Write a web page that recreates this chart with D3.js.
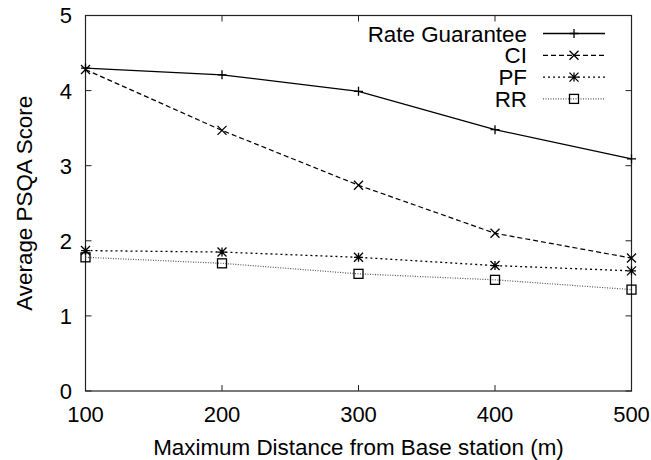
<!DOCTYPE html>
<html>
<head>
<meta charset="utf-8">
<script src="https://cdn.jsdelivr.net/npm/d3@7"></script>
<style>
  html, body { margin: 0; padding: 0; background: white; }
  svg { display: block; font-family: "Liberation Sans", Arial, Helvetica, sans-serif; }
</style>
</head>
<body>
<svg id="main-svg" width="651" height="460"></svg>
<script>
// data
const distances = [100, 200, 300, 400, 500];
const rateGuarantee = [4.30, 4.21, 3.99, 3.48, 3.09];
const ci = [4.28, 3.47, 2.74, 2.10, 1.77];
const pf = [1.87, 1.85, 1.78, 1.67, 1.60];
const rr = [1.78, 1.70, 1.56, 1.48, 1.35];
const seriesNames = ["Rate Guarantee", "CI", "PF", "RR"];
const xTicks = [100, 200, 300, 400, 500];
const yTicks = [0, 1, 2, 3, 4, 5];

const svg = d3.select("#main-svg");

// plot area
const plotLeft = 85.5, plotRight = 631.5, plotTop = 15.5, plotBottom = 391;

const x = d3.scaleLinear().domain([100, 500]).range([plotLeft, plotRight]);
const y = d3.scaleLinear().domain([0, 5]).range([plotBottom, plotTop]);

// series styles (gnuplot-ish)
const styles = [
    { dash: null, color: "#000", width: 1.3, marker: "plus" },
    { dash: "5,3", color: "#000", width: 1.2, marker: "cross" },
    { dash: "2,3", color: "#000", width: 1.3, marker: "star" },
    { dash: "1,1.5", color: "#555", width: 1.2, marker: "box" }
];
const allSeries = [rateGuarantee, ci, pf, rr];

// border
svg.append("rect")
    .attr("x", plotLeft).attr("y", plotTop)
    .attr("width", plotRight - plotLeft).attr("height", plotBottom - plotTop)
    .attr("fill", "none")
    .attr("stroke", "#222")
    .attr("stroke-width", 1.2);

// ticks, mirrored on all sides, pointing inward
const tickLen = 6;
xTicks.forEach(t => {
    svg.append("line")
        .attr("x1", x(t)).attr("x2", x(t))
        .attr("y1", plotBottom).attr("y2", plotBottom - tickLen)
        .attr("stroke", "#222");
    svg.append("line")
        .attr("x1", x(t)).attr("x2", x(t))
        .attr("y1", plotTop).attr("y2", plotTop + tickLen)
        .attr("stroke", "#222");
    svg.append("text")
        .attr("x", x(t)).attr("y", 422)
        .attr("text-anchor", "middle")
        .style("font-size", "22px")
        .text(t);
});
yTicks.forEach(t => {
    svg.append("line")
        .attr("x1", plotLeft).attr("x2", plotLeft + tickLen)
        .attr("y1", y(t)).attr("y2", y(t))
        .attr("stroke", "#222");
    svg.append("line")
        .attr("x1", plotRight).attr("x2", plotRight - tickLen)
        .attr("y1", y(t)).attr("y2", y(t))
        .attr("stroke", "#222");
    svg.append("text")
        .attr("x", 72).attr("y", y(t))
        .attr("dy", "0.36em")
        .attr("text-anchor", "end")
        .style("font-size", "22px")
        .text(t);
});

// axis titles
svg.append("text")
    .attr("x", (plotLeft + plotRight) / 2).attr("y", 455)
    .attr("text-anchor", "middle")
    .style("font-size", "22.4px")
    .text("Maximum Distance from Base station (m)");

svg.append("text")
    .attr("transform", `translate(32, ${(plotTop + plotBottom) / 2}) rotate(-90)`)
    .attr("text-anchor", "middle")
    .style("font-size", "22.4px")
    .text("Average PSQA Score");

// markers
function drawMarker(g, kind, cx, cy) {
    const s = 4.5;
    if (kind === "plus") {
        g.append("path")
            .attr("d", `M${cx - s},${cy}H${cx + s}M${cx},${cy - s}V${cy + s}`)
            .attr("stroke", "#000").attr("stroke-width", 1.3);
    } else if (kind === "cross") {
        g.append("path")
            .attr("d", `M${cx - s},${cy - s}L${cx + s},${cy + s}M${cx - s},${cy + s}L${cx + s},${cy - s}`)
            .attr("stroke", "#000").attr("stroke-width", 1.3);
    } else if (kind === "star") {
        g.append("path")
            .attr("d", `M${cx - s},${cy}H${cx + s}M${cx},${cy - s}V${cy + s}` +
                `M${cx - s},${cy - s}L${cx + s},${cy + s}M${cx - s},${cy + s}L${cx + s},${cy - s}`)
            .attr("stroke", "#000").attr("stroke-width", 1.3);
    } else if (kind === "box") {
        g.append("rect")
            .attr("x", cx - s).attr("y", cy - s)
            .attr("width", 2 * s).attr("height", 2 * s)
            .attr("fill", "none")
            .attr("stroke", "#000").attr("stroke-width", 1.3);
    }
}

const line = d3.line()
    .x(d => x(d[0]))
    .y(d => y(d[1]));

const plot = svg.append("g");
allSeries.forEach((vals, i) => {
    const st = styles[i];
    const pts = distances.map((d, j) => [d, vals[j]]);
    plot.append("path")
        .datum(pts)
        .attr("d", line)
        .attr("fill", "none")
        .attr("stroke", st.color)
        .attr("stroke-width", st.width)
        .attr("stroke-dasharray", st.dash);
    pts.forEach(p => drawMarker(plot, st.marker, x(p[0]), y(p[1])));
});

// legend
const legend = svg.append("g");
const legendTop = 33.5, legendStep = 21.8;
seriesNames.forEach((name, i) => {
    const st = styles[i];
    const ly = legendTop + i * legendStep;
    legend.append("text")
        .attr("x", 527).attr("y", ly)
        .attr("dy", "0.36em")
        .attr("text-anchor", "end")
        .style("font-size", "22.4px")
        .text(name);
    legend.append("line")
        .attr("x1", 543).attr("x2", 605)
        .attr("y1", ly).attr("y2", ly)
        .attr("stroke", st.color)
        .attr("stroke-width", st.width)
        .attr("stroke-dasharray", st.dash);
    drawMarker(legend, st.marker, 574, ly);
});
</script>
</body>
</html>
